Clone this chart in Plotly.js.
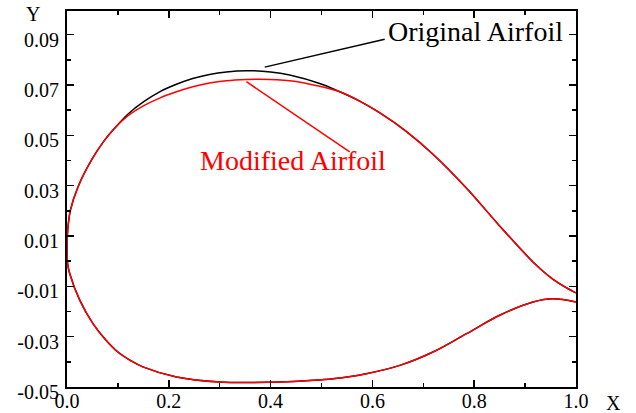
<!DOCTYPE html>
<html>
<head>
<meta charset="utf-8">
<script src="https://cdn.plot.ly/plotly-3.0.1.min.js"></script>
<style>html,body{margin:0;padding:0;background:#fff}#chart{width:636px;height:413px}</style>
</head>
<body>
<div id="chart"></div>
<script>
// Original airfoil: trailing edge (upper) -> leading edge -> trailing edge (lower)
const origX = [1.0, 0.994, 0.955, 0.9155, 0.85, 0.785, 0.719, 0.667, 0.614, 0.575, 0.536, 0.4965, 0.4375, 0.40, 0.352, 0.313, 0.28, 0.247, 0.215, 0.182, 0.15, 0.12, 0.093, 0.07, 0.048, 0.0216, 0.0067, 0.0014, 0.0, 0.0012, 0.0053, 0.025, 0.051, 0.075, 0.1, 0.125, 0.149, 0.215, 0.30, 0.398, 0.477, 0.5226, 0.588, 0.654, 0.719, 0.785, 0.85, 0.9155, 0.955, 1.0];
const origY = [-0.0126, -0.0120, -0.0072, -0.0003, 0.0140, 0.0290, 0.0425, 0.0515, 0.0590, 0.0636, 0.0673, 0.0706, 0.0740, 0.0752, 0.0757, 0.0752, 0.0742, 0.0726, 0.0703, 0.0673, 0.0633, 0.0585, 0.0527, 0.0470, 0.0401, 0.0295, 0.0203, 0.0123, 0.0050, -0.0010, -0.0049, -0.0155, -0.0248, -0.0310, -0.0361, -0.0395, -0.0420, -0.0460, -0.0480, -0.0481, -0.0474, -0.0467, -0.0447, -0.0414, -0.0361, -0.0288, -0.0215, -0.0162, -0.0149, -0.0162];
// Modified airfoil
const modX = [1.0, 0.994, 0.955, 0.9155, 0.85, 0.785, 0.719, 0.667, 0.614, 0.575, 0.536, 0.4965, 0.4375, 0.379, 0.352, 0.313, 0.28, 0.247, 0.215, 0.182, 0.15, 0.12, 0.093, 0.07, 0.048, 0.0216, 0.0067, 0.0014, 0.0, 0.0012, 0.0053, 0.025, 0.051, 0.075, 0.1, 0.125, 0.149, 0.215, 0.30, 0.398, 0.477, 0.5226, 0.588, 0.654, 0.719, 0.785, 0.85, 0.9155, 0.955, 1.0];
const modY = [-0.0126, -0.0120, -0.0072, -0.0003, 0.0140, 0.0290, 0.0425, 0.0515, 0.0590, 0.0636, 0.0673, 0.0695, 0.0717, 0.0723, 0.0722, 0.0717, 0.0708, 0.0693, 0.0673, 0.0648, 0.0617, 0.0578, 0.0527, 0.0470, 0.0401, 0.0295, 0.0203, 0.0123, 0.0050, -0.0010, -0.0049, -0.0155, -0.0248, -0.0310, -0.0361, -0.0395, -0.0420, -0.0460, -0.0480, -0.0481, -0.0474, -0.0467, -0.0447, -0.0414, -0.0361, -0.0288, -0.0215, -0.0162, -0.0149, -0.0162];

const xTickVals = [0.0, 0.2, 0.4, 0.6, 0.8, 1.0];
const xTickText = ["0.0", "0.2", "0.4", "0.6", "0.8", "1.0"];
const yTickVals = [-0.05, -0.03, -0.01, 0.01, 0.03, 0.05, 0.07, 0.09];
const yTickText = ["-0.05", "-0.03", "-0.01", "0.01", "0.03", "0.05", "0.07", "0.09"];

const labelOriginal = "Original Airfoil";
const labelModified = "Modified Airfoil";

const serif = "Liberation Serif, Times New Roman, serif";

const data = [
  {x: origX, y: origY, mode: "lines", line: {color: "#000000", width: 1.5, shape: "spline", smoothing: 1}, name: labelOriginal, hoverinfo: "none"},
  {x: modX, y: modY, mode: "lines", line: {color: "#ff0000", width: 1.5, shape: "spline", smoothing: 1}, name: labelModified, hoverinfo: "none"}
];

const layout = {
  width: 636, height: 413,
  margin: {l: 67, r: 60, t: 11, b: 26, pad: 0},
  paper_bgcolor: "#ffffff", plot_bgcolor: "#ffffff",
  showlegend: false,
  font: {family: serif, color: "#000000", size: 20},
  xaxis: {
    range: [0, 1], showgrid: false, zeroline: false,
    showline: true, linecolor: "#000", linewidth: 2, mirror: "ticks",
    ticks: "inside", ticklen: 7, tickwidth: 1.5, tickcolor: "#000",
    tickmode: "array", tickvals: xTickVals, ticktext: xTickText,
    ticklabelstandoff: -5,
    minor: {ticks: "inside", ticklen: 4, tick0: 0, dtick: 0.1, tickwidth: 1.5, tickcolor: "#000"},
    tickfont: {family: serif, size: 20, color: "#000"}
  },
  yaxis: {
    range: [-0.05, 0.0994], showgrid: false, zeroline: false,
    showline: true, linecolor: "#000", linewidth: 2, mirror: "ticks",
    ticks: "inside", ticklen: 7, tickwidth: 1.5, tickcolor: "#000",
    tickmode: "array", tickvals: yTickVals, ticktext: yTickText,
    ticklabelshift: 5, ticklabelstandoff: 2,
    minor: {ticks: "inside", ticklen: 4, tick0: -0.05, dtick: 0.01, tickwidth: 1.5, tickcolor: "#000"},
    tickfont: {family: serif, size: 20, color: "#000"}
  },
  shapes: [
    {type: "line", xref: "x", yref: "y", x0: 0.3884, y0: 0.0771, x1: 0.6242, y1: 0.0882, line: {color: "#000", width: 1.5}},
    {type: "line", xref: "x", yref: "y", x0: 0.3525, y0: 0.0713, x1: 0.5554, y1: 0.0434, line: {color: "#ff0000", width: 1.5}}
  ],
  annotations: [
    {text: labelOriginal, xref: "x", yref: "y", x: 0.6262, y: 0.0912, xanchor: "left", yanchor: "middle", showarrow: false, font: {family: serif, size: 28, color: "#000"}},
    {text: labelModified, xref: "x", yref: "y", x: 0.4444, y: 0.0401, xanchor: "center", yanchor: "middle", showarrow: false, font: {family: serif, size: 28, color: "#ff0000"}},
    {text: "X", xref: "paper", yref: "paper", x: 1.0727, y: -0.043, xanchor: "center", yanchor: "middle", showarrow: false, font: {family: serif, size: 20, color: "#000"}},
    {text: "Y", xref: "paper", yref: "paper", x: -0.0668, y: 0.992, xanchor: "center", yanchor: "middle", showarrow: false, font: {family: serif, size: 20, color: "#000"}}
  ]
};

Plotly.newPlot("chart", data, layout, {displayModeBar: false, staticPlot: true});
</script>
</body>
</html>
